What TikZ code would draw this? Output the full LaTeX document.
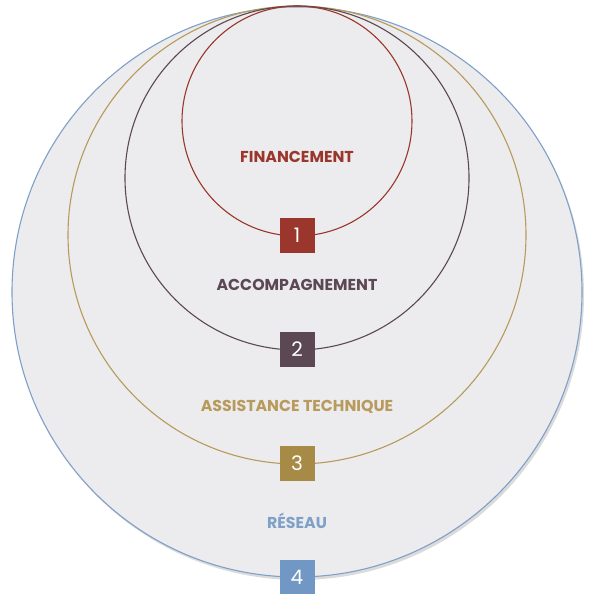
\documentclass[tikz,border=0pt]{standalone}
\usepackage{fontspec}
\setmainfont{Poppins}
\usetikzlibrary{shadows}
\definecolor{cred}{HTML}{9A362C}
\definecolor{cdark}{HTML}{5C4852}
\definecolor{cgold}{HTML}{B89A5C}
\definecolor{cgoldsq}{HTML}{A88A47}
\definecolor{cblue}{HTML}{7FA0C8}
\definecolor{cbluesq}{HTML}{7198C4}
\definecolor{cbg}{HTML}{ECECEE}
\tikzset{
  ring/.style={line width=1.1pt},
  numbox/.style={minimum width=35pt, minimum height=35pt, inner sep=0pt, text=white, font=\fontsize{20}{20}\selectfont},
  lab/.style={font=\fontsize{15.8}{16}\selectfont\bfseries}
}
\begin{document}
\begin{tikzpicture}[x=1pt,y=-1pt]
\useasboundingbox (0,0) rectangle (594,594);
\fill[cbg, drop shadow={shadow xshift=2pt, shadow yshift=-3pt, opacity=0.35, fill=gray!80}] (297,292) circle (285);
\draw[cblue, ring] (297,292) circle (285);
\draw[cgold, ring] (297,235) circle (229);
\draw[cdark, ring] (297,178) circle (172);
\draw[cred, ring] (297,121) circle (115);
\node[lab, text=cred] (t1) at (297,157) {FINANCEMENT};
\node[lab, text=cdark] (t2) at (297,285) {ACCOMPAGNEMENT};
\node[lab, text=cgold] (t3) at (297,407) {ASSISTANCE TECHNIQUE};
\node[lab, text=cblue] (t4) at (297,521) {RÉSEAU};
\node[numbox, fill=cred] (n1) at (297,235) {1};
\node[numbox, fill=cdark] (n2) at (297,349) {2};
\node[numbox, fill=cgoldsq] (n3) at (297,463) {3};
\node[numbox, fill=cbluesq] (n4) at (297,577) {4};
\end{tikzpicture}
\end{document}
